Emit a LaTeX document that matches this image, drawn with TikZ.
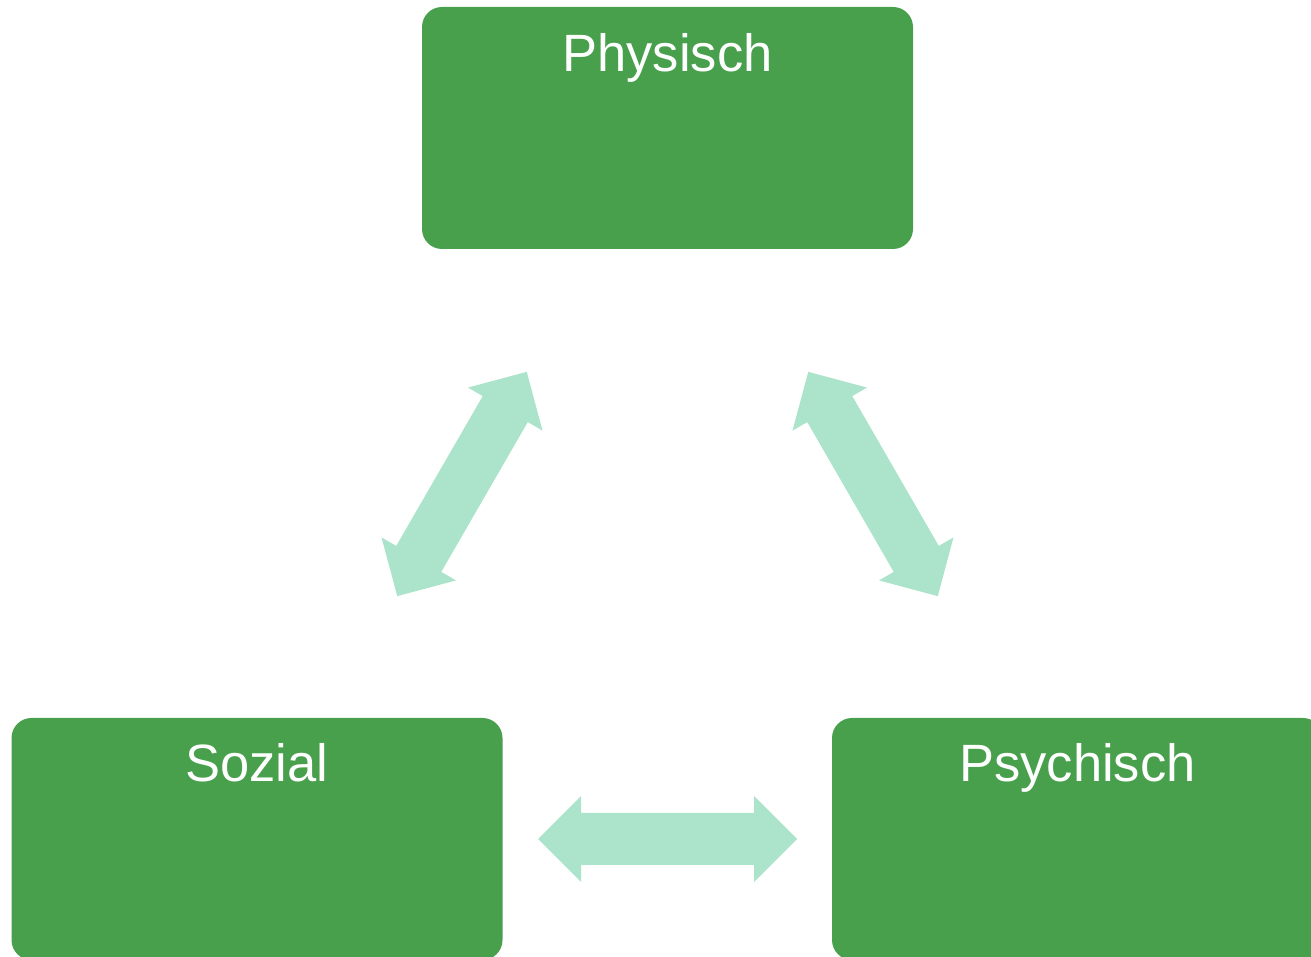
\documentclass[tikz,border=0pt]{standalone}
\usepackage{fontspec}
\setmainfont{Liberation Sans}
\definecolor{boxgreen}{HTML}{48A04D}
\definecolor{arrowmint}{HTML}{ACE3CB}
\tikzset{
  area/.style={fill=boxgreen, draw=none, rounded corners=20pt,
    minimum width=491pt, minimum height=242pt, inner sep=0pt},
  areatitle/.style={text=white, anchor=base, inner sep=0pt,
    font=\fontsize{52.5}{60}\selectfont},
  twoway/.pic={
    \fill[arrowmint] (-129.5,0) -- (-86.5,43) -- (-86.5,26) -- (86.5,26)
      -- (86.5,43) -- (129.5,0) -- (86.5,-43) -- (86.5,-26)
      -- (-86.5,-26) -- (-86.5,-43) -- cycle;
  }
}
\begin{document}
\begin{tikzpicture}[x=1pt,y=1pt]
  \useasboundingbox (0,0) rectangle (1311,957);
  \clip (0,0) rectangle (1311,957);

  % the three areas
  \node[area] (phys) at (667.5,829) {};
  \node[area] (soz)  at (257,118) {};
  \node[area] (psy)  at (1077.5,118) {};

  \node[areatitle] (physT) at ([yshift=-65pt]phys.north) {Physisch};
  \node[areatitle] (sozT)  at ([yshift=-64pt]soz.north) {Sozial};
  \node[areatitle] (psyT)  at ([yshift=-64pt]psy.north) {Psychisch};

  % two-way arrows between the areas
  \pic[rotate=60]  at (462,473)   {twoway};
  \pic[rotate=-60] at (873,473)   {twoway};
  \pic             at (667.5,118) {twoway};
\end{tikzpicture}
\end{document}
